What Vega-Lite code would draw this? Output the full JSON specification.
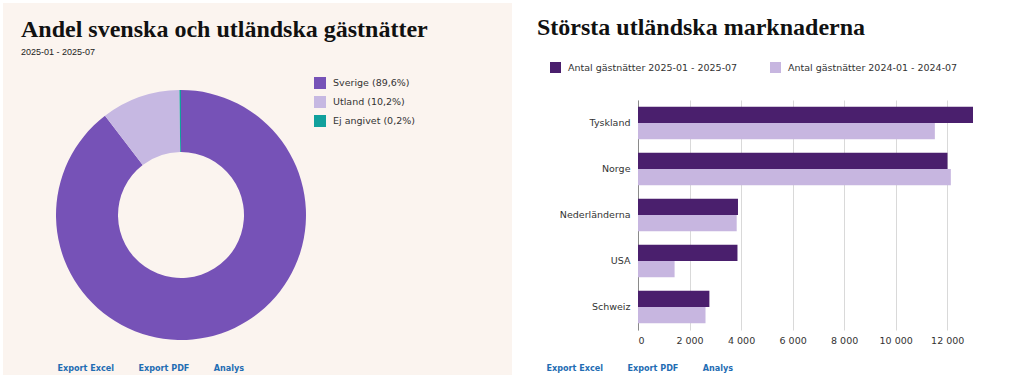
{
  "$schema": "https://vega.github.io/schema/vega-lite/v6.json",
  "padding": {"left": 3, "top": 3, "right": 20, "bottom": 5},
  "background": "white",
  "spacing": 12,
  "resolve": {"scale": {"color": "independent"}, "legend": {"color": "independent"}},
  "config": {
    "view": {"stroke": null},
    "font": "DejaVu Sans",
    "title": {"font": "Liberation Serif", "fontSize": 24, "fontWeight": "bold", "color": "#111111", "anchor": "start", "frame": "group", "subtitleFont": "Liberation Sans", "subtitleFontSize": 9, "subtitleColor": "#222222", "subtitlePadding": 6},
    "axis": {"labelFont": "DejaVu Sans", "labelFontSize": 9.5, "labelColor": "#333333"},
    "legend": {"labelFont": "DejaVu Sans", "labelFontSize": 9.5, "labelColor": "#333333", "symbolType": "square", "symbolStrokeWidth": 0, "symbolOpacity": 1, "labelLimit": 400}
  },
  "hconcat": [
    {
      "width": 509,
      "height": 372,
      "view": {"fill": "#fbf4ef", "stroke": null},
      "title": {"text": "Andel svenska och utländska gästnätter", "subtitle": "2025-01 - 2025-07", "offset": -54, "dx": 18},
      "layer": [
        {
          "data": {"values": [
            {"kategori": "Sverige (89,6%)", "andel": 89.6},
            {"kategori": "Utland (10,2%)", "andel": 10.2},
            {"kategori": "Ej angivet (0,2%)", "andel": 0.2}
          ]},
          "mark": {"type": "arc", "innerRadius": 63, "outerRadius": 125, "x": 178, "y": 212},
          "encoding": {
            "theta": {"field": "andel", "type": "quantitative", "stack": true},
            "order": {"field": "andel", "type": "quantitative", "sort": "descending"},
            "color": {
              "field": "kategori", "type": "nominal",
              "scale": {"domain": ["Sverige (89,6%)", "Utland (10,2%)", "Ej angivet (0,2%)"], "range": ["#7652b7", "#c6b8e2", "#11a09c"]},
              "legend": {"title": null, "orient": "none", "legendX": 311, "legendY": 74, "symbolSize": 144, "rowPadding": 7, "labelOffset": 7}
            }
          }
        },
        {
          "data": {"values": [{"v": 0}]},
          "mark": {"type": "point", "opacity": 0},
          "encoding": {
            "x": {"field": "v", "type": "quantitative",
              "axis": {"title": "Export Excel\u2003\u2003\u2003Export PDF\u2003\u2003\u2003Analys", "domain": false, "ticks": false, "labels": false, "grid": false,
                "titleFont": "Liberation Sans Narrow, DejaVu Sans Condensed", "titleFontSize": 9, "titleFontWeight": "bold", "titleColor": "#1f6db3",
                "titleAnchor": "start", "titleAlign": "left", "titleBaseline": "alphabetic", "titleX": 54, "titleY": -5}}
          }
        }
      ]
    },
    {
      "width": 335,
      "height": 327,
      "data": {"values": [
        {"land": "Tyskland", "period": "Antal gästnätter 2025-01 - 2025-07", "antal": 13000},
        {"land": "Tyskland", "period": "Antal gästnätter 2024-01 - 2024-07", "antal": 11520},
        {"land": "Norge", "period": "Antal gästnätter 2025-01 - 2025-07", "antal": 12010},
        {"land": "Norge", "period": "Antal gästnätter 2024-01 - 2024-07", "antal": 12140},
        {"land": "Nederländerna", "period": "Antal gästnätter 2025-01 - 2025-07", "antal": 3880},
        {"land": "Nederländerna", "period": "Antal gästnätter 2024-01 - 2024-07", "antal": 3830},
        {"land": "USA", "period": "Antal gästnätter 2025-01 - 2025-07", "antal": 3860},
        {"land": "USA", "period": "Antal gästnätter 2024-01 - 2024-07", "antal": 1420},
        {"land": "Schweiz", "period": "Antal gästnätter 2025-01 - 2025-07", "antal": 2770},
        {"land": "Schweiz", "period": "Antal gästnätter 2024-01 - 2024-07", "antal": 2620}
      ]},
      "mark": {"type": "bar"},
      "encoding": {
        "y": {"field": "land", "type": "nominal", "sort": ["Tyskland", "Norge", "Nederländerna", "USA", "Schweiz"],
          "scale": {"range": [97, 327], "paddingInner": 0.29, "paddingOuter": 0.145},
          "axis": {"title": null, "ticks": false, "tickSize": 0, "labelPadding": 8, "domainColor": "#8a8a8a", "domainWidth": 1}},
        "yOffset": {"field": "period", "type": "nominal", "sort": ["Antal gästnätter 2025-01 - 2025-07", "Antal gästnätter 2024-01 - 2024-07"]},
        "x": {"field": "antal", "type": "quantitative",
          "scale": {"domain": [0, 13000], "nice": false},
          "axis": {"orient": "top", "offset": -342, "values": [0, 2000, 4000, 6000, 8000, 10000, 12000], "labelExpr": "replace(format(datum.value, ','), ',', ' ')",
            "domain": false, "ticks": false, "tickSize": 0, "labelPadding": 0, "gridColor": "#d9d9d9",
            "title": "Export Excel\u2003\u2003\u2003Export PDF\u2003\u2003\u2003Analys",
            "titleFont": "Liberation Sans Narrow, DejaVu Sans Condensed", "titleFontSize": 9, "titleFontWeight": "bold", "titleColor": "#1f6db3",
            "titleAnchor": "start", "titleAlign": "left", "titleBaseline": "alphabetic", "titleX": -92, "titleY": 25}},
        "color": {"field": "period", "type": "nominal",
          "scale": {"domain": ["Antal gästnätter 2025-01 - 2025-07", "Antal gästnätter 2024-01 - 2024-07"], "range": ["#4a1f6d", "#c7b6e0"]},
          "legend": {"title": "Största utländska marknaderna", "titleFont": "Liberation Serif", "titleFontSize": 24, "titleFontWeight": "bold", "titleColor": "#111111", "titleLimit": 600, "titlePadding": 22,
            "orient": "none", "direction": "horizontal", "legendX": -114, "legendY": 0, "padding": 13,
            "symbolSize": 121, "symbolOffset": 13, "labelOffset": 7, "columnPadding": 19}}
      }
    }
  ]
}
